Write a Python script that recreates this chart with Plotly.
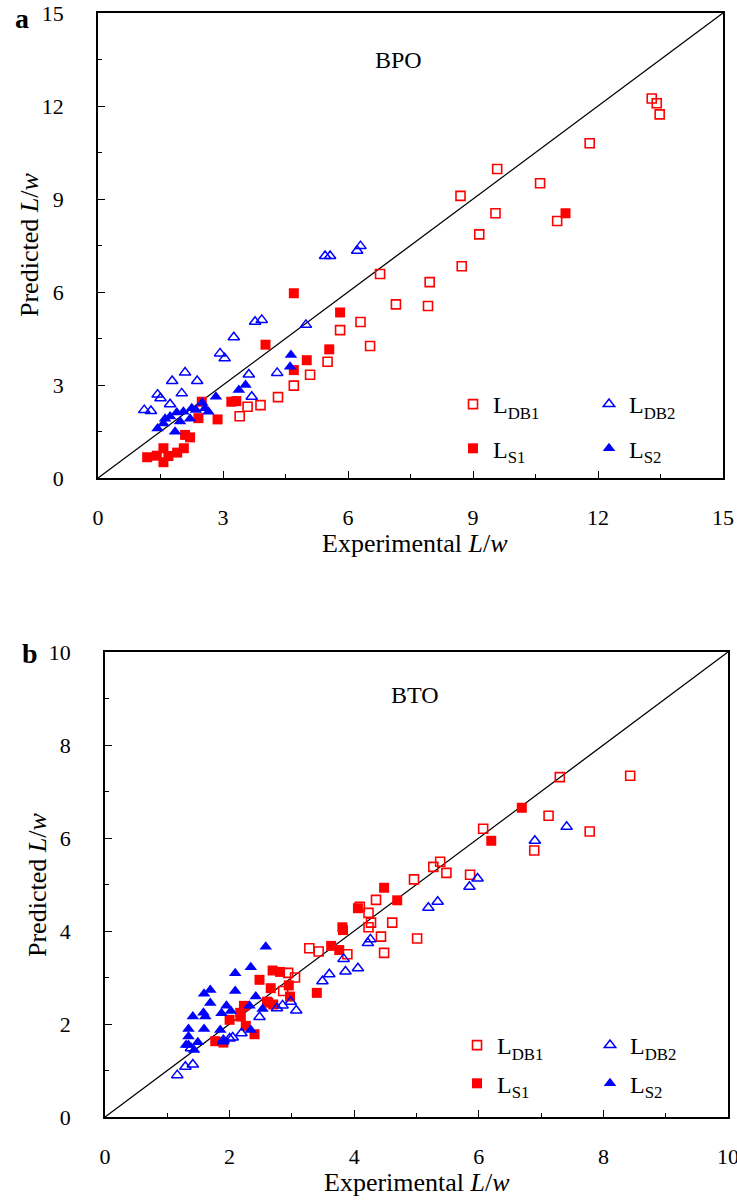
import plotly.graph_objects as go

# ---- BPO (panel a): experimental vs predicted L/w ----
BPO_DB1_X = [13.29, 13.41, 13.48, 11.80, 9.58, 10.61, 8.70, 9.54, 9.15, 11.02, 8.73, 6.77, 7.96,
             7.15, 7.92, 6.30, 5.81, 6.53, 5.51, 5.09, 4.70, 4.32, 3.90, 3.59, 3.40]
BPO_DB1_Y = [12.24, 12.09, 11.73, 10.80, 9.97, 9.51, 9.10, 8.54, 7.86, 8.29, 6.83, 6.58, 6.32,
             5.60, 5.55, 5.03, 4.77, 4.26, 3.75, 3.33, 2.98, 2.61, 2.35, 2.30, 1.99]

BPO_S1_X = [11.22, 5.81, 5.55, 5.01, 4.70, 4.02, 4.70, 3.32, 3.20, 2.49, 2.87, 2.41, 2.09, 2.21,
            1.57, 2.06, 1.18, 1.41, 1.69, 1.90, 1.57]
BPO_S1_Y = [8.54, 5.34, 4.15, 3.80, 5.96, 4.30, 3.48, 2.48, 2.46, 2.46, 1.89, 1.93, 1.39, 1.31,
            0.96, 0.96, 0.67, 0.72, 0.71, 0.82, 0.51]

BPO_DB2_X = [5.45, 5.57, 6.22, 6.30, 4.99, 3.77, 3.93, 3.26, 2.93, 3.04, 2.09, 1.78, 2.38, 3.62,
             4.30, 2.01, 3.69, 1.43, 1.50, 1.73, 1.11, 1.27]
BPO_DB2_Y = [7.16, 7.16, 7.33, 7.48, 4.94, 5.04, 5.10, 4.54, 4.02, 3.86, 3.40, 3.13, 3.13, 3.34,
             3.39, 2.73, 2.62, 2.69, 2.57, 2.38, 2.19, 2.16]

BPO_S2_X = [4.63, 4.61, 3.38, 3.54, 2.83, 2.50, 2.57, 2.65, 2.35, 2.21, 1.97, 2.05, 1.89, 1.73,
            1.61, 1.57, 1.43, 1.85, 2.25]
BPO_S2_Y = [3.97, 3.59, 2.84, 3.00, 2.62, 2.43, 2.25, 2.14, 2.19, 1.91, 1.82, 2.14, 2.11, 1.98,
            1.91, 1.76, 1.60, 1.49, 2.25]

# ---- BTO (panel b) ----
BTO_DB1_X = [8.43, 7.30, 7.12, 7.78, 6.89, 6.07, 5.38, 5.27, 5.48, 5.86, 4.96, 4.35, 4.09, 4.23,
             4.27, 4.23, 4.61, 4.43, 5.01, 4.48, 3.89, 3.28, 3.43, 2.94, 3.05, 2.86]
BTO_DB1_Y = [7.34, 7.31, 6.48, 6.14, 5.73, 6.20, 5.49, 5.38, 5.25, 5.21, 5.11, 4.67, 4.52, 4.39,
             4.18, 4.08, 4.18, 3.88, 3.84, 3.53, 3.50, 3.63, 3.56, 3.10, 3.00, 2.71]

BTO_S1_X = [6.69, 6.20, 4.48, 4.69, 4.06, 3.82, 3.81, 3.63, 3.76, 3.40, 2.69, 2.81, 2.48, 2.66,
            2.95, 2.97, 2.70, 2.62, 2.23, 2.18, 2.26, 2.40, 2.00, 1.77, 1.90, 2.60, 2.17]
BTO_S1_Y = [6.65, 5.94, 4.93, 4.66, 4.49, 4.02, 4.08, 3.68, 3.59, 2.67, 3.15, 3.12, 2.95, 2.77,
            2.83, 2.59, 2.42, 2.46, 2.39, 2.16, 1.96, 1.78, 2.09, 1.63, 1.60, 2.48, 2.24]

BTO_DB2_X = [7.41, 6.90, 5.98, 5.85, 5.34, 5.19, 4.26, 4.22, 3.83, 4.06, 3.86, 3.60, 3.49, 3.07,
             2.98, 2.85, 2.76, 2.48, 2.19, 2.05, 2.00, 1.90, 1.16, 1.29, 1.41, 1.38]
BTO_DB2_Y = [6.24, 5.94, 5.13, 4.95, 4.63, 4.50, 3.82, 3.74, 3.40, 3.20, 3.13, 3.07, 2.92, 2.29,
             2.48, 2.40, 2.34, 2.15, 1.80, 1.71, 1.69, 1.65, 0.90, 1.08, 1.13, 1.48]

BTO_S2_X = [2.58, 2.34, 2.09, 2.09, 1.69, 1.59, 1.69, 1.58, 1.61, 1.41, 1.34, 1.34, 1.34, 1.49,
            1.59, 1.85, 1.95, 1.87, 2.02, 2.42, 2.32, 2.53, 2.34, 1.90, 1.30, 1.43]
BTO_S2_Y = [3.66, 3.22, 3.09, 2.71, 2.73, 2.65, 2.45, 2.24, 2.16, 2.16, 1.89, 1.73, 1.55, 1.61,
            1.89, 1.87, 2.39, 2.23, 2.28, 2.59, 2.39, 2.32, 1.87, 1.62, 1.55, 1.44]

SERIES_NAMES = ["L<sub>DB1</sub>", "L<sub>S1</sub>", "L<sub>DB2</sub>", "L<sub>S2</sub>"]
AXIS_MAX = {"a": 15, "b": 10}
MAJOR_DTICK = {"a": 3, "b": 2}
MINOR_DTICK = {"a": 1.5, "b": 1}
X_TITLE = "Experimental <i>L</i>/<i>w</i>"
Y_TITLE = "Predicted <i>L</i>/<i>w</i>"

RED = "#ff0000"
BLUE = "#0000ff"
FONT = "Liberation Serif, Times New Roman, serif"
W, H = 737, 1200

STYLES = [
    dict(symbol="square-open", color=RED, size=9, line=dict(width=1.6, color=RED)),
    dict(symbol="square", color=RED, size=10, line=dict(width=0)),
    dict(symbol="triangle-up-open", color=BLUE, size=10, line=dict(width=1.5, color=BLUE)),
    dict(symbol="triangle-up", color=BLUE, size=11, line=dict(width=0)),
]

fig = go.Figure()

panels = [
    ("a", "x", "y", [(BPO_DB1_X, BPO_DB1_Y), (BPO_S1_X, BPO_S1_Y),
                     (BPO_DB2_X, BPO_DB2_Y), (BPO_S2_X, BPO_S2_Y)], ["legend", "legend2"]),
    ("b", "x2", "y2", [(BTO_DB1_X, BTO_DB1_Y), (BTO_S1_X, BTO_S1_Y),
                       (BTO_DB2_X, BTO_DB2_Y), (BTO_S2_X, BTO_S2_Y)], ["legend3", "legend4"]),
]

for key, xa, ya, series, legends in panels:
    m = AXIS_MAX[key]
    # 1:1 reference line across the full axis range
    fig.add_trace(go.Scatter(x=[0, m], y=[0, m], mode="lines", xaxis=xa, yaxis=ya,
                             line=dict(color="black", width=1.3), showlegend=False,
                             hoverinfo="skip"))
    for i, (xs, ys) in enumerate(series):
        fig.add_trace(go.Scatter(
            x=xs, y=ys, mode="markers", name=SERIES_NAMES[i], xaxis=xa, yaxis=ya,
            marker=STYLES[i], legend=legends[i // 2], legendgroup=f"{key}{i}",
        ))


def px_x(p):
    return p / W


def px_y(p):
    return 1 - p / H


def axis_common(key, dom, horizontal):
    return dict(
        domain=dom, range=[0, AXIS_MAX[key]], dtick=MAJOR_DTICK[key], tick0=0,
        showline=True, linecolor="black", linewidth=1.6, mirror=True,
        ticks="inside", ticklen=7, tickwidth=1.2, tickcolor="black",
        minor=dict(dtick=MINOR_DTICK[key], ticks="inside", ticklen=4, tickwidth=1.2,
                   tickcolor="black", showgrid=False),
        showgrid=False, zeroline=False, automargin=False,
        tickfont=dict(family=FONT, size=22, color="black"),
        ticklabelstandoff=19 if horizontal else 28,
        ticklabeloverflow="allow",
    )


xa_a = axis_common("a", [px_x(98), px_x(723)], True)
xa_a.update(anchor="y")
ya_a = axis_common("a", [px_y(478), px_y(13)], False)
ya_a.update(anchor="x")
xa_b = axis_common("b", [px_x(105), px_x(728)], True)
xa_b.update(anchor="y2")
ya_b = axis_common("b", [px_y(1117), px_y(652)], False)
ya_b.update(anchor="x2")


def legend_box(x_px, y_px, gap):
    return dict(x=px_x(x_px), y=px_y(y_px), xanchor="left", yanchor="top",
                bgcolor="rgba(0,0,0,0)", borderwidth=0, tracegroupgap=gap,
                font=dict(family=FONT, size=24, color="black"), itemsizing="trace")


def text_note(text, x_px, y_px, size, angle=0):
    return dict(text=text, x=px_x(x_px), y=px_y(y_px), xref="paper", yref="paper",
                xanchor="center", yanchor="middle", showarrow=False, textangle=angle,
                font=dict(family=FONT, size=size, color="black"))


fig.update_layout(
    width=W, height=H, margin=dict(l=0, r=0, t=0, b=0),
    paper_bgcolor="white", plot_bgcolor="white",
    xaxis=xa_a, yaxis=ya_a, xaxis2=xa_b, yaxis2=ya_b,
    legend=legend_box(453, 382, 10), legend2=legend_box(589, 382, 10),
    legend3=legend_box(457, 1023, 4), legend4=legend_box(590, 1023, 4),
    annotations=[
        dict(text="BPO", x=7.2, y=13.5, xref="x", yref="y", showarrow=False,
             font=dict(family=FONT, size=24, color="black")),
        dict(text="BTO", x=4.98, y=9.08, xref="x2", yref="y2", showarrow=False,
             font=dict(family=FONT, size=24, color="black")),
        text_note("<b>a</b>", 22, 18, 28),
        text_note("<b>b</b>", 30, 653, 28),
        text_note(X_TITLE, 415, 543, 26),
        text_note(X_TITLE, 417, 1182, 26),
        text_note(Y_TITLE, 30, 245, 26, -90),
        text_note(Y_TITLE, 37, 885, 26, -90),
    ],
    showlegend=True,
)

fig.write_html("out.html")
